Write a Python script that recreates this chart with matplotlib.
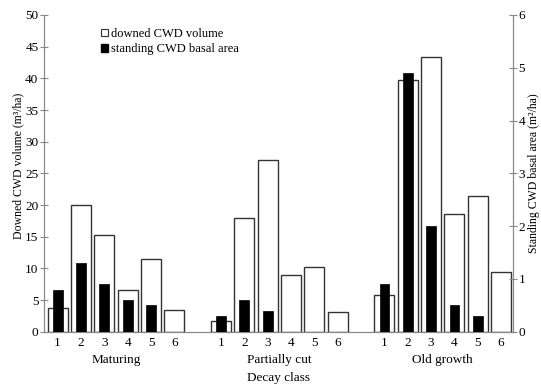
import numpy as np
import matplotlib
matplotlib.use("Agg")
from matplotlib import pyplot as plt
from matplotlib.patches import Patch

plt.rcParams['font.family'] = ['Liberation Serif', 'DejaVu Serif']

groups = ["Maturing", "Partially cut", "Old growth"]
decay_classes = ["1", "2", "3", "4", "5", "6"]

# downed CWD volume (m3/ha), left axis
downed_maturing = [3.7, 20.0, 15.2, 6.6, 11.5, 3.5]
downed_partial = [1.7, 18.0, 27.1, 8.9, 10.3, 3.1]
downed_old = [5.8, 39.8, 43.4, 18.6, 21.5, 9.4]

# standing CWD basal area (m2/ha), right axis
standing_maturing = [0.8, 1.3, 0.9, 0.6, 0.5, 0.0]
standing_partial = [0.3, 0.6, 0.4, 0.0, 0.0, 0.0]
standing_old = [0.9, 4.9, 2.0, 0.5, 0.3, 0.0]

downed = [downed_maturing, downed_partial, downed_old]
standing = [standing_maturing, standing_partial, standing_old]

fig = plt.figure(figsize=(5.41, 3.84), dpi=100)
ax = fig.add_axes([0.0813, 0.136, 0.867, 0.825])
ax2 = ax.twinx()

edge = '#333333'
positions = []
for g in range(len(groups)):
	x = np.arange(len(decay_classes)) + g * 7
	positions.extend(x)
	ax.bar(x, downed[g], width=0.86, color='white', edgecolor=edge, linewidth=1.0, zorder=2)
	ax2.bar(x, standing[g], width=0.42, color='black', edgecolor='black', linewidth=0.5, zorder=3)
	ax.text(x.mean(), -0.09, groups[g], transform=ax.get_xaxis_transform(), ha='center', va='center', fontsize=9.5)

ax.set_zorder(1)
ax2.set_zorder(2)
ax.patch.set_visible(False)

ax.set_xlim(-0.585, 19.51)
ax.set_ylim(0, 50)
ax2.set_ylim(0, 6)
ax.set_yticks(np.arange(0, 51, 5))
ax2.set_yticks(np.arange(0, 7, 1))
ax.set_xticks(positions)
ax.set_xticklabels(decay_classes * 3)

for a in (ax, ax2):
	a.spines['top'].set_visible(False)
	for s in a.spines.values():
		s.set_color('#888888')
		s.set_linewidth(0.8)
	a.tick_params(axis='y', direction='inout', length=6, width=0.8, color='#888888', labelsize=9.5, pad=1)
ax.tick_params(axis='x', length=0, labelsize=9.5, pad=4)

# axis titles placed in figure coords to keep them inside the canvas
fig.text(18 / 541, 1 - 166 / 384, 'Downed CWD volume (m³/ha)', rotation=90,
	ha='center', va='center', fontsize=8.5)
fig.text(534 / 541, 1 - 173 / 384, 'Standing CWD basal area (m²/ha)', rotation=90,
	ha='center', va='center', fontsize=8.5)
ax.text(0.5, -0.147, 'Decay class', transform=ax.transAxes, ha='center', va='center', fontsize=9.5)

handles = [Patch(facecolor='white', edgecolor=edge, linewidth=0.8, label='downed CWD volume'),
	Patch(facecolor='black', edgecolor='black', label='standing CWD basal area')]
ax2.legend(handles=handles, loc='upper left', bbox_to_anchor=(0.11, 0.975), frameon=False, fontsize=9,
	handlelength=0.6, handleheight=0.6, handletextpad=0.2, labelspacing=0.25, borderaxespad=0)

plt.savefig('out.png', dpi=100)
